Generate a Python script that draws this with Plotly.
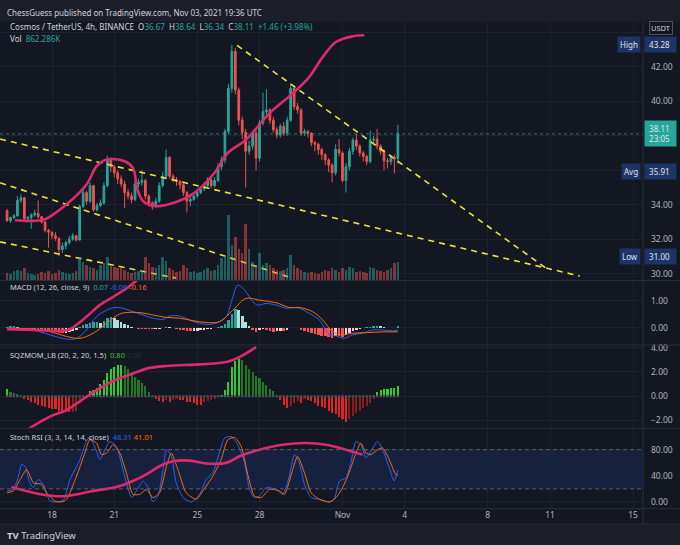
import numpy as np
import pandas as pd
import plotly.graph_objects as go

# ---------------- data ----------------
START = "2021-10-15 20:00"
BAR_HOURS = 4

opens = [33.64, 33.07, 33.25, 33.35, 34.25, 34.40, 33.20, 33.25, 33.40, 33.50,
         33.30, 33.00, 32.50, 32.40, 32.20, 32.05, 31.40, 31.60, 31.80, 32.00,
         32.20, 31.95, 33.90, 34.70, 34.20, 35.10, 33.70, 33.95, 34.10, 35.10,
         36.60, 36.20, 35.85, 35.50, 35.20, 34.70, 34.50, 34.30, 35.20, 35.30,
         35.40, 34.50, 34.10, 33.90, 34.20, 35.10, 35.65, 36.75, 35.65, 35.45,
         35.35, 35.15, 34.70, 34.20, 34.30, 34.50, 34.70, 34.90, 35.10, 35.45,
         35.10, 35.40, 36.20, 36.60, 38.25, 40.75, 42.90, 40.65, 38.90, 38.20,
         37.10, 37.40, 38.15, 36.70, 38.75, 39.40, 39.50, 38.90, 38.35, 38.05,
         38.55, 38.15, 38.90, 40.75, 39.70, 39.50, 38.15, 38.25, 38.15, 37.60,
         37.50, 37.20, 36.90, 36.60, 36.30, 35.85, 37.20, 37.00, 35.40, 36.20,
         37.10, 37.75, 37.40, 37.00, 36.80, 36.50, 37.75, 37.80, 37.40, 37.10,
         36.55, 36.50, 36.75, 36.67]
closes = [33.07, 33.25, 33.35, 34.25, 34.40, 33.20, 33.25, 33.40, 33.50, 33.30,
          33.00, 32.50, 32.40, 32.20, 32.05, 31.40, 31.60, 31.80, 32.00, 32.20,
          31.95, 33.90, 34.70, 34.20, 35.10, 33.70, 33.95, 34.10, 35.10, 36.60,
          36.20, 35.85, 35.50, 35.20, 34.70, 34.50, 34.30, 35.20, 35.30, 35.40,
          34.50, 34.10, 33.90, 34.20, 35.10, 35.65, 36.75, 35.65, 35.45, 35.35,
          35.15, 34.70, 34.20, 34.30, 34.50, 34.70, 34.90, 35.10, 35.45, 35.10,
          35.40, 36.20, 36.60, 38.25, 40.75, 42.90, 40.65, 38.90, 38.20, 37.10,
          37.40, 38.15, 36.70, 38.75, 39.40, 39.50, 38.90, 38.35, 38.05, 38.55,
          38.15, 38.90, 40.75, 39.70, 39.50, 38.15, 38.25, 38.15, 37.60, 37.50,
          37.20, 36.90, 36.60, 36.30, 35.85, 37.20, 37.00, 35.40, 36.20, 37.10,
          37.75, 37.40, 37.00, 36.80, 36.50, 37.75, 37.80, 37.40, 37.10, 36.55,
          36.50, 36.75, 36.65, 38.11]
highs = [33.75, 33.30, 33.45, 34.50, 34.60, 34.45, 33.35, 33.50, 33.70, 34.25,
         33.35, 33.05, 32.60, 32.45, 32.40, 32.10, 31.80, 31.90, 32.20, 32.35,
         32.25, 34.00, 35.00, 34.80, 35.30, 35.15, 34.10, 34.30, 35.30, 36.85,
         36.75, 36.30, 36.00, 35.70, 35.40, 34.90, 34.70, 35.40, 35.50, 36.00,
         35.50, 34.60, 34.20, 34.40, 35.30, 35.90, 37.20, 36.80, 35.80, 35.60,
         35.45, 35.30, 34.80, 34.50, 34.65, 34.85, 35.05, 35.30, 35.60, 35.55,
         35.60, 36.40, 36.80, 38.40, 41.00, 43.28, 43.10, 40.80, 39.10, 38.40,
         37.70, 38.30, 38.30, 38.90, 40.50, 40.70, 39.60, 39.10, 38.50, 38.70,
         38.80, 39.10, 41.00, 40.85, 39.90, 39.60, 38.40, 38.35, 38.20, 37.70,
         37.60, 37.30, 37.00, 36.70, 36.40, 37.50, 37.80, 37.10, 36.40, 37.30,
         37.90, 38.10, 37.50, 37.10, 36.90, 38.30, 38.00, 38.40, 37.50, 37.20,
         36.70, 36.90, 36.90, 38.64]
lows = [33.00, 32.95, 33.15, 33.30, 34.10, 33.10, 33.00, 32.60, 33.30, 33.20,
        32.90, 32.40, 31.50, 32.00, 31.90, 31.00, 31.20, 31.40, 31.70, 31.90,
        31.85, 31.90, 33.80, 34.00, 34.10, 33.60, 33.60, 33.85, 34.00, 35.00,
        35.90, 35.60, 35.20, 35.00, 33.80, 34.30, 34.10, 34.20, 35.00, 35.10,
        34.30, 33.90, 33.70, 33.80, 34.10, 35.00, 35.50, 35.50, 35.30, 35.10,
        34.90, 34.50, 33.55, 33.90, 34.20, 34.40, 34.60, 34.80, 35.00, 34.95,
        35.00, 35.30, 36.00, 36.40, 38.10, 40.50, 40.40, 38.60, 37.80, 35.00,
        36.90, 37.20, 36.00, 36.50, 38.60, 39.00, 38.70, 38.20, 37.85, 37.90,
        38.00, 38.00, 38.80, 39.50, 39.30, 38.00, 38.00, 37.90, 37.40, 37.10,
        36.90, 36.60, 36.30, 35.90, 35.30, 35.70, 36.80, 35.30, 34.70, 36.00,
        36.90, 37.20, 36.80, 36.50, 36.30, 36.40, 37.50, 37.20, 36.90, 36.00,
        36.10, 36.30, 35.80, 36.34]
volume_k = [350, 300, 420, 500, 450, 600, 350, 300, 250, 300,
            400, 350, 450, 300, 350, 500, 400, 320, 300, 350,
            450, 1040, 880, 720, 640, 560, 480, 720, 800, 1100,
            720, 640, 560, 600, 480, 400, 360, 400, 450, 500,
            1100, 800, 640, 560, 720, 1120, 900, 600, 480, 400,
            450, 720, 560, 400, 450, 350, 400, 500, 560, 450,
            500, 720, 1040, 1150, 3120, 1700, 2080, 1500, 1300, 2720,
            1500, 880, 720, 1280, 720, 800, 700, 560, 500, 450,
            500, 600, 1200, 720, 560, 500, 400, 350, 400, 350,
            300, 400, 500, 450, 560, 500, 400, 560, 500, 650,
            560, 400, 450, 400, 350, 640, 560, 500, 450, 400,
            500, 560, 800, 862.286]

macd_hist = [0.03, 0.05, 0.06, 0.02, -0.02, -0.05, -0.06, -0.06, -0.07, -0.08,
             -0.10, -0.12, -0.14, -0.16, -0.17, -0.19, -0.20, -0.19, -0.16, -0.13,
             -0.08, 0.03, 0.10, 0.13, 0.18, 0.20, 0.22, 0.18, 0.24, 0.34,
             0.38, 0.36, 0.30, 0.22, 0.15, 0.08, 0.03, -0.03, -0.04, -0.05,
             -0.06, -0.07, -0.07, -0.06, -0.04, 0.00, 0.03, 0.02, -0.02, -0.05,
             -0.08, -0.10, -0.13, -0.14, -0.13, -0.12, -0.10, -0.08, -0.05, -0.04,
             -0.02, 0.02, 0.06, 0.12, 0.30, 0.50, 0.70, 0.65, 0.45, 0.20,
             0.05, -0.08, -0.15, -0.10, -0.06, -0.08, -0.12, -0.15, -0.14, -0.12,
             -0.14, -0.10, -0.02, 0.00, -0.02, -0.10, -0.14, -0.18, -0.20, -0.24,
             -0.26, -0.30, -0.33, -0.36, -0.38, -0.30, -0.32, -0.36, -0.28, -0.20,
             -0.12, -0.08, -0.04, -0.02, 0.01, 0.04, 0.06, 0.07, 0.06, 0.03,
             -0.02, -0.03, -0.02, 0.07]
macd_line_idx = [0, 7.6, 12.4, 17.2, 20.1, 23.0, 25.9, 28.8, 31.2, 33.6, 36.4, 39.3,
                 42.2, 45.1, 47.0, 49.9, 52.8, 55.7, 58.6, 61.4, 63.4, 65.3, 66.7,
                 68.7, 71.1, 72.5, 74.9, 77.8, 80.7, 82.6, 84.5, 87.4, 90.3, 93.2,
                 95.1, 97.5, 99.9, 102.8, 105.7, 108.6, 111.4, 113]
macd_line = [0.00, -0.09, -0.27, -0.43, -0.40, -0.09, 0.41, 0.65, 0.75, 0.72, 0.59, 0.47,
             0.35, 0.31, 0.43, 0.43, 0.28, 0.16, 0.12, 0.22, 0.41, 1.15, 1.58,
             1.40, 0.96, 0.84, 0.90, 0.84, 0.72, 0.74, 0.72, 0.53, 0.28, -0.27,
             -0.31, -0.40, -0.27, -0.21, -0.09, -0.09, -0.12, -0.09]
signal_idx = [0, 7.6, 12.4, 17.2, 21.1, 24.9, 28.8, 32.6, 34.5, 38.4, 42.2, 46.1,
              49.9, 53.7, 57.6, 61.4, 65.3, 69.1, 73.0, 77.8, 81.6, 84.5, 88.4,
              91.3, 94.1, 97.0, 99.9, 103.8, 108.6, 113]
signal_line = [-0.02, -0.06, -0.15, -0.33, -0.40, -0.21, 0.16, 0.51, 0.56, 0.56, 0.47, 0.38,
               0.35, 0.26, 0.19, 0.22, 0.65, 1.09, 1.02, 0.93, 0.75, 0.75, 0.59,
               0.28, -0.15, -0.27, -0.21, -0.19, -0.16, -0.16]

sqz_mom = [0.60, 0.35, 0.25, 0.15, 0.02, -0.20, -0.35, -0.50, -0.60, -0.70,
           -0.80, -0.90, -1.00, -1.05, -1.10, -1.20, -1.25, -1.30, -1.35, -1.35,
           -1.20, -0.60, -0.20, 0.10, 0.40, 0.50, 0.70, 1.00, 1.30, 1.90,
           2.20, 2.40, 2.55, 2.60, 2.45, 2.20, 1.90, 1.60, 1.35, 1.10,
           0.80, 0.30, 0.05, -0.20, -0.40, -0.45, -0.30, -0.50, -0.30, -0.20,
           -0.30, -0.35, -0.45, -0.50, -0.60, -0.70, -0.75, -0.50, -0.40, -0.30,
           -0.20, -0.10, 0.10, 0.50, 1.20, 2.40, 2.90, 3.10, 3.00, 2.60,
           2.20, 2.00, 1.70, 1.50, 1.20, 0.90, 0.60, 0.40, 0.10, -0.30,
           -0.70, -1.00, -0.80, -0.60, -0.40, -0.60, -0.20, -0.30, -0.40, -0.60,
           -0.80, -0.90, -1.00, -1.20, -1.40, -1.50, -1.70, -1.90, -2.10, -1.90,
           -1.60, -1.40, -1.20, -1.00, -0.80, -0.60, -0.20, 0.30, 0.50, 0.55,
           0.60, 0.65, 0.70, 0.80]

stoch_k_idx = [0, 1.8, 3.3, 4.2, 5.2, 6.6, 7.6, 9.0, 10.5, 12.4, 14.3, 16.3, 18.2,
               21.1, 22.5, 23.9, 25.9, 26.8, 28.8, 29.7, 31.6, 34.0, 36.0, 37.4,
               39.3, 40.8, 42.2, 43.7, 45.1, 46.1, 47.5, 48.9, 50.9, 53.3, 55.7,
               57.6, 59.5, 61.4, 62.9, 64.8, 66.7, 68.7, 70.1, 71.5, 73.0, 74.9,
               77.8, 79.7, 81.6, 83.1, 84.5, 86.0, 87.9, 90.3, 93.2, 94.6, 96.1,
               98.0, 99.4, 100.9, 102.3, 103.8, 105.2, 107.1, 108.6, 110.5, 111.9, 113]
stoch_k = [16.8, 19.3, 39.5, 57.2, 54.7, 29.4, 21.8, 34.5, 26.9, 1.6, 0.0, 3.1, 34.5,
           64.8, 87.6, 99.0, 77.5, 64.8, 85.0, 92.6, 85.0, 39.5, 6.7, 16.8,
           32.0, 21.8, 0.0, 10.0, 49.6, 80.0, 69.9, 29.4, 6.7, 0.0, 11.7,
           34.5, 44.6, 75.0, 97.7, 100.0, 87.6, 59.8, 19.3, 6.7, 9.2, 21.8,
           19.3, 11.7, 39.5, 72.4, 59.8, 26.9, 6.7, 4.1, 0.0, 4.1, 32.0,
           37.0, 59.8, 92.6, 87.6, 67.4, 77.5, 92.6, 80.0, 52.2, 32.0, 48.31]
stoch_d_idx = [0, 1.8, 3.8, 5.7, 7.6, 10.0, 11.4, 13.8, 15.8, 17.2, 20.1, 22.5,
               23.9, 25.9, 27.3, 28.8, 30.7, 32.6, 34.5, 36.4, 38.4, 40.3, 42.2,
               44.1, 46.1, 47.5, 49.4, 51.8, 54.7, 56.6, 59.5, 61.9, 63.8, 65.8,
               67.7, 69.6, 71.5, 73.5, 75.9, 78.8, 80.2, 82.6, 84.0, 86.0, 87.9,
               90.3, 93.2, 95.1, 97.0, 98.9, 100.9, 102.3, 103.8, 105.2, 107.1,
               108.6, 110.5, 112.4, 113]
stoch_d = [14.2, 16.8, 34.5, 49.6, 29.4, 26.9, 14.2, 1.6, 0.0, 4.1, 39.5, 75.0,
           95.0, 90.0, 72.4, 75.0, 87.6, 75.0, 44.6, 11.7, 11.7, 19.3, 6.7,
           14.2, 54.7, 75.0, 49.6, 14.2, 4.1, 16.8, 39.5, 64.8, 95.0, 98.7,
           85.0, 42.0, 9.2, 6.7, 19.3, 16.8, 11.7, 49.6, 69.9, 44.6, 14.2,
           4.1, 0.0, 6.7, 21.8, 44.6, 75.0, 90.0, 75.0, 72.4, 80.0,
           82.5, 64.8, 42.0, 41.01]

# hand-drawn pink curves (bar index, panel value)
pink_main_idx = [2.3, 7.6, 11.0, 17.2, 23.0, 25.9, 28.8, 34.0, 36.4, 37.7, 39.3, 42.7,
                 48.5, 54.2, 60.0, 63.8, 69.1, 75.9, 82.6, 87.4, 91.3, 95.1, 99.9, 103.3]
pink_main_val = [33.10, 33.06, 33.15, 34.02, 35.17, 36.23, 36.62, 36.52, 36.13, 34.88,
                 34.21, 33.92, 34.12, 34.69, 35.85, 37.00, 37.77, 39.31, 40.46, 41.42,
                 42.58, 43.44, 43.77, 43.83]
pink_macd_idx = [0, 7.6, 16.3, 18.2, 23.0, 26.8, 30.7, 34.5, 39.3]
pink_macd_val = [-0.06, -0.09, -0.12, -0.06, 0.41, 0.84, 1.15, 1.46, 1.95]
pink_sqz_idx = [6.2, 12.4, 17.2, 23.0, 26.8, 31.6, 36.4, 40.3, 46.1, 55.7, 63.4, 67.2, 72.0]
pink_sqz_val = [-2.70, -1.69, -1.15, -0.05, 0.63, 1.37, 1.86, 2.27, 2.49, 2.62, 2.81, 3.22, 4.04]
pink_stoch_idx = [1.3, 7.6, 13.4, 17.2, 24.9, 31.6, 36.4, 40.3, 44.1, 48.0, 52.8, 57.6,
                  63.4, 67.2, 73.0, 79.7, 86.4, 92.2, 98.0, 102.8]
pink_stoch_val = [22.8, 14.2, 9.2, 9.2, 16.8, 22.8, 32.0, 42.1, 54.7, 62.3, 63.3, 58.8,
                  59.8, 69.9, 80.0, 87.6, 90.1, 87.6, 80.0, 72.4]

# yellow dashed trend lines: (start idx, start price, end idx, end price)
trend_start_idx = [66.5, -2.0, -2.0, -2.0]
trend_start_px = [43.25, 37.81, 35.27, 31.84]
trend_end_idx = [155.8, 165.6, 82.4, 48.8]
trend_end_px = [30.32, 29.86, 29.74, 29.74]

price_high, price_avg, price_low = 43.28, 35.91, 31.00
price_ticks = [30, 32, 34, 36, 38, 40, 42, 44]
price_tick_text = ["30.00", "32.00", "34.00", "", "", "40.00", "42.00", ""]  # 36/38/44 sit under labels
tick_dates = ["2021-10-18", "2021-10-21", "2021-10-25", "2021-10-28", "2021-11-01",
              "2021-11-04", "2021-11-08", "2021-11-11", "2021-11-15"]
tick_labels = ["18", "21", "25", "28", "Nov", "4", "8", "11", "15"]

# ---------------- helpers ----------------
t0 = pd.Timestamp(START)
times = pd.date_range(START, periods=len(closes), freq=f"{BAR_HOURS}h")


def idx_time(idx):
    return t0 + pd.to_timedelta(np.asarray(idx, float) * BAR_HOURS, unit="h")


W, H, R = 680, 545, 37
PW = W - R


def px(x):
    return x / PW


def py(y):
    return 1 - y / H


BG = "#131722"
GRID = "#1e2230"
TXT = "#b2b5be"
FONT = "Noto Sans"
UP, DN = "#26a69a", "#ef5350"
BAR_MS = BAR_HOURS * 3600 * 1000

fig = go.Figure()

# volume
vol_colors = ["rgba(38,166,154,0.5)" if c >= o else "rgba(239,83,80,0.5)" for o, c in zip(opens, closes)]
fig.add_trace(go.Bar(x=times, y=volume_k, marker_color=vol_colors, marker_line_width=0,
                     width=BAR_MS * 0.72, xaxis="x", yaxis="y5"))

# yellow trend lines
for si, sp_, ei, ep in zip(trend_start_idx, trend_start_px, trend_end_idx, trend_end_px):
    fig.add_trace(go.Scatter(x=idx_time([si, ei]), y=[sp_, ep], mode="lines",
                             line=dict(color="#f2e33a", width=1.6, dash="6px,5px"),
                             xaxis="x", yaxis="y"))

# candles
fig.add_trace(go.Candlestick(x=times, open=opens, high=highs, low=lows, close=closes,
                             increasing=dict(line=dict(color=UP, width=1), fillcolor=UP),
                             decreasing=dict(line=dict(color=DN, width=1), fillcolor=DN),
                             whiskerwidth=0, xaxis="x", yaxis="y"))

# pink hand drawn curves
PINK = dict(color="#de2a6c", width=2.6, shape="spline", smoothing=1.0)
fig.add_trace(go.Scatter(x=idx_time(pink_main_idx), y=pink_main_val, mode="lines", line=PINK, xaxis="x", yaxis="y"))

# MACD
hist_colors = []
for k, v in enumerate(macd_hist):
    prev = macd_hist[k - 1] if k else 0
    if v >= 0:
        hist_colors.append("#26a69a" if v >= prev else "#b2dfdb")
    else:
        hist_colors.append("#ff5252" if v <= prev else "#ffcdd2")
fig.add_trace(go.Bar(x=times, y=macd_hist, marker_color=hist_colors, marker_line_width=0,
                     width=BAR_MS * 0.75, xaxis="x2", yaxis="y2"))
fig.add_trace(go.Scatter(x=idx_time(macd_line_idx), y=macd_line, mode="lines",
                         line=dict(color="#2962ff", width=1, shape="spline"), xaxis="x2", yaxis="y2"))
fig.add_trace(go.Scatter(x=idx_time(signal_idx), y=signal_line, mode="lines",
                         line=dict(color="#ff6d00", width=1, shape="spline"), xaxis="x2", yaxis="y2"))
fig.add_trace(go.Scatter(x=idx_time(pink_macd_idx), y=pink_macd_val, mode="lines", line=PINK, xaxis="x2", yaxis="y2"))

# SQZMOM
sqz_colors = []
for k, v in enumerate(sqz_mom):
    prev = sqz_mom[k - 1] if k else 0
    if v > 0:
        sqz_colors.append("#2ecc2e" if v > prev else "#1f7a1f")
    else:
        sqz_colors.append("#e02424" if v < prev else "#8a1c1c")
fig.add_trace(go.Bar(x=times, y=sqz_mom, marker_color=sqz_colors, marker_line_width=0,
                     width=BAR_MS * 0.6, xaxis="x3", yaxis="y3"))
fig.add_trace(go.Scatter(x=times, y=[0] * len(times), mode="markers",
                         marker=dict(color="#4a4e59", size=2.5), xaxis="x3", yaxis="y3"))
fig.add_trace(go.Scatter(x=idx_time(pink_sqz_idx), y=pink_sqz_val, mode="lines", line=PINK, xaxis="x3", yaxis="y3"))

# Stoch RSI
fig.add_trace(go.Scatter(x=idx_time(stoch_k_idx), y=stoch_k, mode="lines",
                         line=dict(color="#2962ff", width=1, shape="spline", smoothing=0.6), xaxis="x4", yaxis="y4"))
fig.add_trace(go.Scatter(x=idx_time(stoch_d_idx), y=stoch_d, mode="lines",
                         line=dict(color="#ff6d00", width=1, shape="spline", smoothing=0.6), xaxis="x4", yaxis="y4"))
fig.add_trace(go.Scatter(x=idx_time(pink_stoch_idx), y=pink_stoch_val, mode="lines", line=PINK, xaxis="x4", yaxis="y4"))

# ---------------- axes ----------------
x_range = [pd.Timestamp("2021-10-15 11:51"), pd.Timestamp("2021-11-15 11:32")]
xcommon = dict(type="date", range=x_range, tickvals=pd.to_datetime(tick_dates), ticktext=tick_labels,
               showgrid=True, gridcolor=GRID, gridwidth=1, zeroline=False, showline=False,
               ticks="", rangeslider=dict(visible=False), fixedrange=True)
ycommon = dict(side="right", showgrid=True, gridcolor=GRID, zeroline=False, showline=False, ticks="",
               tickfont=dict(family=FONT, size=8.5, color=TXT), tickformat=".2f", ticklabelstandoff=7,
               fixedrange=True)

fig.update_layout(
    xaxis=dict(**xcommon, anchor="y", showticklabels=False),
    xaxis2=dict(**xcommon, anchor="y2", matches="x", showticklabels=False),
    xaxis3=dict(**xcommon, anchor="y3", matches="x", showticklabels=False),
    xaxis4=dict(**xcommon, anchor="y4", matches="x", showticklabels=True,
                tickfont=dict(family=FONT, size=8.5, color=TXT)),
    yaxis=dict(**ycommon, domain=[py(278), py(18)], range=[29.63, 44.61],
               tickmode="array", tickvals=price_ticks, ticktext=price_tick_text),
    yaxis5=dict(overlaying="y", range=[0, 12480], visible=False, fixedrange=True),
    yaxis2=dict(**ycommon, domain=[py(343), py(279)], range=[-0.63, 1.74], dtick=1, tick0=0),
    yaxis3=dict(**ycommon, domain=[py(427), py(344)], range=[-2.62, 4.18], dtick=2, tick0=0),
    yaxis4=dict(**ycommon, domain=[py(508), py(428)], range=[-9.6, 111.8], dtick=40, tick0=0),
)

shapes = []
# chart background region
shapes.append(dict(type="rect", xref="paper", yref="paper", x0=0, x1=W / PW, y0=py(524), y1=py(18),
                   fillcolor=BG, line_width=0, layer="below"))
# panel separators
for yy in [278.5, 343.5, 427.5, 508.5, 524]:
    shapes.append(dict(type="line", xref="paper", yref="paper", x0=0, x1=W / PW, y0=py(yy), y1=py(yy),
                       line=dict(color="#2a2e39", width=1)))
shapes.append(dict(type="line", xref="paper", yref="paper", x0=1, x1=1, y0=py(524), y1=py(18),
                   line=dict(color="#2a2e39", width=1)))
# stoch band
shapes.append(dict(type="rect", xref="x4 domain", yref="y4", x0=0, x1=1, y0=20, y1=80,
                   fillcolor="rgba(41,98,255,0.13)", line_width=0, layer="below"))
for lvl in [20, 80]:
    shapes.append(dict(type="line", xref="x4 domain", yref="y4", x0=0, x1=1, y0=lvl, y1=lvl,
                       line=dict(color="#5d606b", width=1, dash="4px,3px")))
# last price line
shapes.append(dict(type="line", xref="x domain", yref="y", x0=0, x1=1, y0=closes[-1], y1=closes[-1],
                   line=dict(color="rgba(38,166,154,0.7)", width=1, dash="dot")))
fig.update_layout(shapes=shapes)

ann = []


def text(x, y, s, size=8, color="#d1d4dc", anchor="left"):
    ann.append(dict(xref="paper", yref="paper", x=px(x), y=py(y), text=s, showarrow=False,
                    xanchor=anchor, yanchor="middle", font=dict(family=FONT, size=size, color=color)))


def sp(c, s):
    return f"<span style='color:{c}'>{s}</span>"


G = "&nbsp;&nbsp;"
g = "&nbsp;"
text(5, 9, "ChessGuess published on TradingView.com, Nov 03, 2021 19:36 UTC", 8)
text(8, 23, "Cosmos / TetherUS, 4h, BINANCE" + G + "O" + sp(UP, f"{opens[-1]:.2f}") + G + "H" + sp(UP, f"{highs[-1]:.2f}")
     + G + "L" + sp(UP, f"{lows[-1]:.2f}") + G + "C" + sp(UP, f"{closes[-1]:.2f}")
     + G + sp(UP, "+1.46 (+3.98%)"), 8)
text(8, 35, "Vol" + G + sp(UP, f"{volume_k[-1]:.3f}K"), 8)
text(8, 285, "MACD (12, 26, close, 9)" + G + sp(UP, f"{macd_hist[-1]:.2f}") + g
     + sp("#2962ff", f"{macd_line[-1]:.2f}") + g + sp("#ff6d00", f"{signal_line[-1]:.2f}"), 7.5)
text(8, 354, "SQZMOM_LB (20, 2, 20, 1.5)" + G + sp("#2ecc2e", f"{sqz_mom[-1]:.2f}") + g + sp("#2a2e39", "0.00"), 7.5)
text(8, 436, "Stoch RSI (3, 3, 14, 14, close)" + G + sp("#2962ff", f"{stoch_k[-1]:.2f}") + g
     + sp("#ff6d00", f"{stoch_d[-1]:.2f}"), 7.5)
text(5, 535, "<b>TV</b> TradingView", 9.5, "#d1d4dc")


def axis_box(yval, s, bg, yref="y", label=None):
    ann.append(dict(xref="paper", yref=yref, x=1, y=yval, text=s, showarrow=False, xanchor="left",
                    yanchor="middle", xshift=1, bgcolor=bg, borderpad=2,
                    font=dict(family=FONT, size=8, color="#e0e3eb")))
    if label:
        ann.append(dict(xref="paper", yref=yref, x=1, y=yval, text=label, showarrow=False, xanchor="right",
                        yanchor="middle", xshift=-2, bgcolor=bg, borderpad=2,
                        font=dict(family=FONT, size=8, color="#e0e3eb")))


BLUEBOX = "#1c3566"
axis_box(price_high, f"&nbsp;{price_high:.2f}&nbsp;&nbsp;", BLUEBOX, label="High")
axis_box(price_avg, f"&nbsp;{price_avg:.2f}&nbsp;&nbsp;", BLUEBOX, label="Avg")
axis_box(price_low, f"&nbsp;{price_low:.2f}&nbsp;&nbsp;", BLUEBOX, label="Low")
axis_box(closes[-1], f"&nbsp;{closes[-1]:.2f}&nbsp;&nbsp;<br>&nbsp;23:05&nbsp;&nbsp;", UP)
ann.append(dict(xref="paper", yref="paper", x=px(661), y=py(24), text="USDT", showarrow=False,
                xanchor="center", yanchor="middle", bgcolor=BG, bordercolor="#50535e", borderwidth=1,
                borderpad=1, font=dict(family=FONT, size=7.5, color="#d1d4dc")))
fig.update_layout(annotations=ann)

fig.update_layout(width=W, height=H, autosize=False, showlegend=False,
                  margin=dict(l=0, r=R, t=0, b=0),
                  paper_bgcolor="#1b1e29", plot_bgcolor=BG, bargap=0,
                  font=dict(family=FONT, color=TXT), hovermode=False, dragmode=False)

fig.write_html("out.html", config={"displayModeBar": False, "staticPlot": True},
               post_script="document.body.style.margin='0';document.body.style.overflow='hidden';")
